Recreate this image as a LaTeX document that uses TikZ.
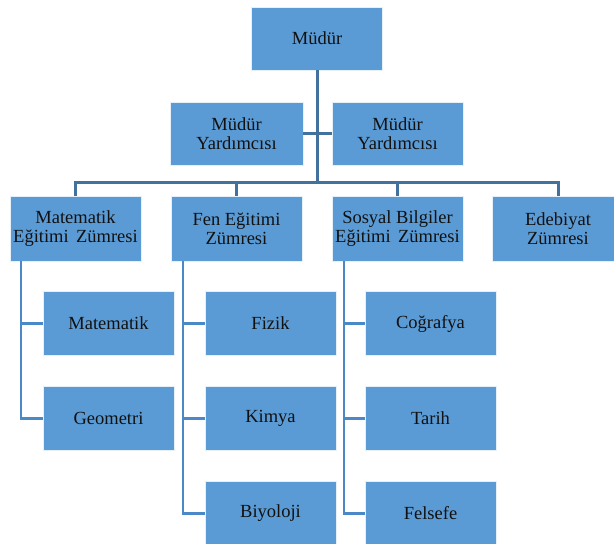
\documentclass[tikz,border=0pt]{standalone}
\usepackage{fontspec}
\setmainfont{Liberation Serif}
\definecolor{boxfill}{HTML}{5B9BD5}
\definecolor{mainline}{HTML}{41719C}
\definecolor{subline}{HTML}{4A88C7}
\definecolor{ink}{HTML}{111111}
\begin{document}
\begin{tikzpicture}[x=1pt,y=-1pt,
  unit/.style={rectangle, fill=boxfill, draw=white!85!boxfill, line width=0.8pt,
    minimum width=131pt, minimum height=64pt, inner sep=2pt, align=center,
    text=ink, font=\rmfamily\fontsize{18.5}{19}\selectfont},
  trunk/.style={draw=mainline, line width=3pt},
  branch/.style={draw=subline, line width=2.5pt}]
\clip (0,0) rectangle (614,544);
\fill[white] (0,0) rectangle (614,544);

% top levels
\node[unit, minimum height=63pt] (mudur) at (317,38.5) {Müdür};
\node[unit, minimum width=133pt, minimum height=63pt] (yard1) at (236.5,133.5) {Müdür\\Yardımcısı};
\node[unit, minimum height=63pt] (yard2) at (397.5,133.5) {Müdür\\Yardımcısı};

% departments
\node[unit, minimum height=65pt] (mat) at (75.5,228.5) {Matematik\\Eğitimi\hspace{0.15em} Zümresi};
\node[unit, minimum height=65pt] (fen) at (236.5,228.5) {Fen Eğitimi\\Zümresi};
\node[unit, minimum height=65pt] (sos) at (397.5,228.5) {Sosyal Bilgiler\\Eğitimi\hspace{0.15em} Zümresi};
\node[unit, minimum height=65pt] (ede) at (558,228.5) {Edebiyat\\Zümresi};

% subjects
\node[unit] (mat1) at (108.5,323.5) {Matematik};
\node[unit] (mat2) at (108.5,418.5) {Geometri};
\node[unit] (fen1) at (270.5,323.5) {Fizik};
\node[unit] (fen2) at (270.5,418.5) {Kimya};
\node[unit] (fen3) at (270.5,513.5) {Biyoloji};
\node[unit] (sos1) at (430.5,323.5) {Coğrafya};
\node[unit] (sos2) at (430.5,418.5) {Tarih};
\node[unit] (sos3) at (430.5,513.5) {Felsefe};

% connector anchors
\coordinate (bus) at (317,182);
\coordinate (matT) at (21,261);
\coordinate (fenT) at (183,261);
\coordinate (sosT) at (344,261);

% main hierarchy lines
\draw[trunk] (mudur.south) -- (bus);
\draw[trunk] (yard1.east) -- (yard2.west);
\foreach \d in {mat,fen,sos,ede}
  \draw[trunk] (bus) -| (\d.north);

% subject branches
\foreach \c in {mat1,mat2}
  \draw[branch] (matT) |- (\c.west);
\foreach \c in {fen1,fen2,fen3}
  \draw[branch] (fenT) |- (\c.west);
\foreach \c in {sos1,sos2,sos3}
  \draw[branch] (sosT) |- (\c.west);
\end{tikzpicture}
\end{document}
